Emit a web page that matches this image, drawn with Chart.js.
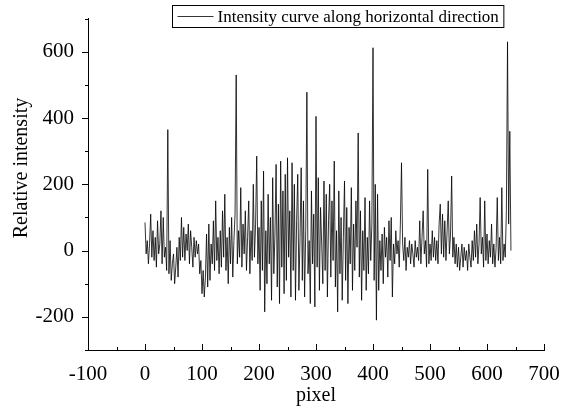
<!DOCTYPE html>
<html>
<head>
<meta charset="utf-8">
<script src="https://cdn.jsdelivr.net/npm/chart.js@4"></script>
<style>
  html, body { margin: 0; padding: 0; background: #fff; }
  #wrap { width: 574px; height: 410px; }
</style>
</head>
<body>
<div id="wrap"><canvas id="myChart"></canvas></div>
<script>
// intensity, one value every 2 pixels starting at pixel 0
const pixelStep = 2
const intensity = [
  85, -10, 30, -40, 20, 110, -20, 60, -30, 40, -50, 90, -10, 20, 120, -40, 100, -20, 10, -60,
  365, -70, 30, -90, -40, -10, -100, -50, 10, -80, 40, -30, 100, -20, 70, -30, 50, 0, 80, -40,
  60, 10, -50, 40, -20, 30, -10, 20, -70, -30, -130,
  -60, -140, -80, 50, -110, 80, -90, 20, -40, 90, -60, 150, -30, 40, -70, 60, -50, 120, -20, 170,
  -60, 40, -100, 70, -40, 100, -80, 30, 110, 530, -40, 60, -20, 190, -50, 80, -10, 120, -60, 40,
  150, -70, 60, -30, 200, -20, 80, 285, -40, 70,
  -120, 150, -60, 240, -185, 60, -100, 170, -40, 100, -150, 220, -70, 50, 260, -110, 140, -160, 270, -50,
  180, -130, 230, -90, 280, -20, 120, -140, 265, -60, 200, -150, 90, 230, -120, 40, 250, -90, 150, -140,
  60, 478, -70, 30, -160, 180, -40, 110, -170, 405,
  -50, 220, -120, 130, 20, -100, 210, -60, 170, -140, 90, 200, -80, 150, -30, 270, -110, 60, -185, 180,
  -70, 100, -150, 40, 210, -90, 130, -160, 70, -40, 190, -120, 80, -60, 150, 10, 355, -80, 120, -150,
  60, -60, 160, -120, 40, -70, 150, -30, 80, 612,
  -90, 200, -210, 170, -120, 30, -60, 50, -100, 70, -20, 40, -80, 90, -30, 100, -140, 20, -40, 60,
  -10, 30, -50, 80, 265, 20, -30, 40, -60, 10, -20, 30, -40, 20, -10, -50, 30, -20, 10, -30,
  90, -40, 40, 120, -10, 30, -50, 245, -40, 20,
  -30, 60, -20, 40, -30, 30, -40, 80, 140, -10, 110, -20, 90, -30, 60, 150, -10, 50, 225, -20,
  40, -40, 20, -50, 10, -60, -20, 20, -50, 10, -30, 0, -60, 20, -20, -50, 30, -30, 60, -20,
  80, -40, 20, 160, -10, 40, -50, 150, -30, 50, -40, 30, -20, 80, -40, 20, -50, 10, 160, -30,
  40, -40, 190, -30, 20, -20, 120, 630, 80, 360, 0
]

const xTicks = [-100, 0, 100, 200, 300, 400, 500, 600, 700]
const yTicks = [-200, 0, 200, 400, 600]
const xMinorTicks = [-50, 50, 150, 250, 350, 450, 550, 650]
const yMinorTicks = [-300, -100, 100, 300, 500, 700]

const seriesLabel = 'Intensity curve along horizontal direction'
const yTitle = 'Relative intensity'
const serif = "'Liberation Serif', 'Times New Roman', serif"

const points = intensity.map((v, i) => ({x: i * pixelStep, y: v}))

// major/minor tick marks: y ticks point out, x ticks point in
const tickMarks = {
  id: 'tickMarks',
  afterDraw(chart) {
    const ctx = chart.ctx
    const xs = chart.scales.x, ys = chart.scales.y
    ctx.save()
    ctx.strokeStyle = '#000'
    ctx.lineWidth = 1
    ctx.beginPath()
    xTicks.forEach(v => {
      const px = Math.round(xs.getPixelForValue(v)) + 0.5
      ctx.moveTo(px, xs.top); ctx.lineTo(px, xs.top - 6)
    })
    xMinorTicks.forEach(v => {
      const px = Math.round(xs.getPixelForValue(v)) + 0.5
      ctx.moveTo(px, xs.top); ctx.lineTo(px, xs.top - 3)
    })
    yTicks.forEach(v => {
      const py = Math.round(ys.getPixelForValue(v)) + 0.5
      ctx.moveTo(ys.right, py); ctx.lineTo(ys.right - 6, py)
    })
    yMinorTicks.forEach(v => {
      const py = Math.round(ys.getPixelForValue(v)) + 0.5
      ctx.moveTo(ys.right, py); ctx.lineTo(ys.right - 3, py)
    })
    ctx.stroke()

    // y axis title, sits a bit above the middle of the axis like the original
    ctx.save()
    ctx.translate(22, 168)
    ctx.rotate(-Math.PI / 2)
    ctx.font = '20px ' + serif
    ctx.fillStyle = '#000'
    ctx.textAlign = 'center'
    ctx.textBaseline = 'middle'
    ctx.fillText(yTitle, 0, 0)
    ctx.restore()
    ctx.restore()
  }
}

// boxed legend in the top of the plot
const boxLegend = {
  id: 'boxLegend',
  afterDraw(chart) {
    const ctx = chart.ctx
    const left = 172.5, top = 5.5, h = 22
    ctx.save()
    ctx.font = '17px ' + serif
    const w = ctx.measureText(seriesLabel).width + 50
    ctx.fillStyle = '#fff'
    ctx.fillRect(left, top, w, h)
    ctx.strokeStyle = '#000'
    ctx.lineWidth = 1
    ctx.strokeRect(left, top, w, h)
    ctx.beginPath()
    ctx.lineWidth = 0.8
    ctx.moveTo(left + 5, top + h / 2); ctx.lineTo(left + 41, top + h / 2)
    ctx.stroke()
    ctx.fillStyle = '#000'
    ctx.textBaseline = 'middle'
    ctx.fillText(seriesLabel, left + 45, top + h / 2 + 1)
    ctx.restore()
  }
}

const data = {
  datasets: [{
    label: seriesLabel,
    data: points,
    borderColor: '#000',
    borderWidth: 0.8,
    pointRadius: 0,
    tension: 0,
    fill: false
  }]
}

const config = {
  type: 'line',
  data: data,
  options: {
    responsive: true,
    maintainAspectRatio: false,
    animation: false,
    layout: { padding: { left: 0, right: 30, top: 14, bottom: 0 } },
    plugins: {
      legend: { display: false },
      tooltip: { enabled: false }
    },
    scales: {
      x: {
        type: 'linear',
        min: -100,
        max: 700,
        afterBuildTicks: s => { s.ticks = xTicks.map(v => ({value: v})) },
        afterFit: s => { s.height = 60 },
        grid: { display: false },
        border: { display: true, color: '#000', width: 1 },
        ticks: { color: '#000', font: { family: serif, size: 21 }, padding: 4, maxRotation: 0 },
        title: { display: true, text: 'pixel', color: '#000', font: { family: serif, size: 20 }, padding: { top: 0, bottom: 2 } }
      },
      y: {
        min: -300,
        max: 700,
        afterBuildTicks: s => { s.ticks = yTicks.map(v => ({value: v})) },
        afterFit: s => { s.width = 88 },
        grid: { display: false },
        border: { display: true, color: '#000', width: 1 },
        ticks: { color: '#000', font: { family: serif, size: 21 }, padding: 6 },
        title: { display: false }
      }
    }
  },
  plugins: [tickMarks, boxLegend]
}

const myChart = new Chart(document.getElementById('myChart'), config)
</script>
</body>
</html>
